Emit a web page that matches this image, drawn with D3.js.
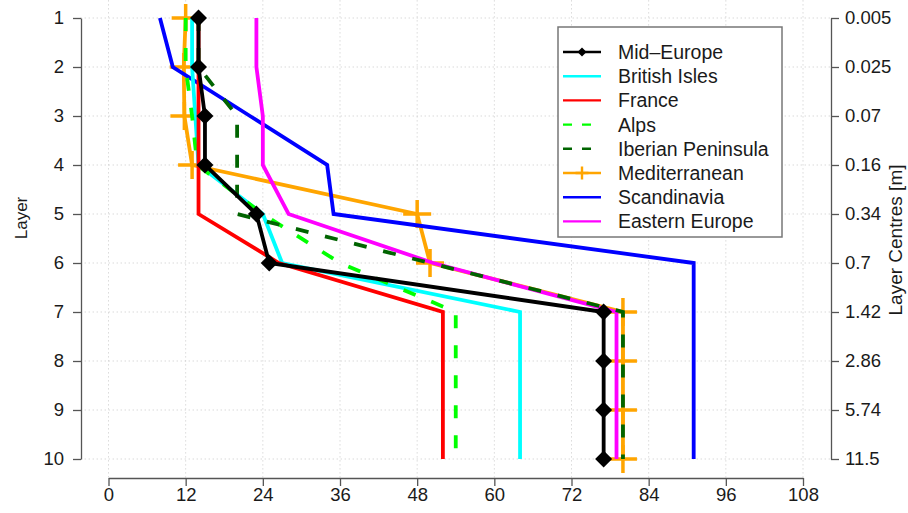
<!DOCTYPE html>
<html>
<head>
<meta charset="utf-8">
<script src="https://cdn.jsdelivr.net/npm/d3@7/dist/d3.min.js"></script>
<style>
  html, body { margin: 0; padding: 0; background: #fff; }
  svg { display: block; font-family: "Liberation Sans", Arial, Helvetica, sans-serif; }
</style>
</head>
<body>
<svg id="chart" width="908" height="513"></svg>
<script>
// Soil layers and their centre depths
const layers = [1, 2, 3, 4, 5, 6, 7, 8, 9, 10];
const layerCentres = ["0.005", "0.025", "0.07", "0.16", "0.34", "0.7", "1.42", "2.86", "5.74", "11.5"];
const xTicks = [0, 12, 24, 36, 48, 60, 72, 84, 96, 108];

// Values per region, layer 1 .. layer 10
const midEurope     = [14, 14, 15, 15, 23, 25, 77, 77, 77, 77];
const britishIsles  = [13, 13, 13.5, 14, 24, 27, 64, 64, 64, 64];
const france        = [14, 14, 14, 14, 14, 26.5, 52, 52, 52, 52];
const alps          = [12, 12, 13, 13.8, 24, 36, 54, 54, 54, 54];
const iberian       = [14, 14, 20, 20, 20, 50, 80, 80, 80, 80];
const mediterranean = [12, 11.7, 11.8, 13, 48, 50, 80, 80, 80, 80];
const scandinavia   = [8, 10, 22, 34, 35, 91, 91, 91, 91, 91];
const easternEurope = [23, 23, 24, 24, 28, 50.5, 79, 79, 79, 79];

const seriesNames  = ["Mid\u2013Europe", "British Isles", "France", "Alps", "Iberian Peninsula", "Mediterranean", "Scandinavia", "Eastern Europe"];
const seriesValues = [midEurope, britishIsles, france, alps, iberian, mediterranean, scandinavia, easternEurope];
const seriesColors = ["#000000", "#00ffff", "#ff0000", "#00ff00", "#006400", "#ffa500", "#0000ff", "#ff00ff"];
const seriesDash   = [null, null, null, "13,17", "13,17", null, null, null];
const seriesMarker = ["diamond", null, null, null, null, "plus", null, null];
// drawing order (indices into the series lists)
const drawOrder = [5, 6, 7, 1, 3, 2, 4, 0];

const svg = d3.select("#chart");
const FONT = 18.5;

const x = d3.scaleLinear().domain([0, 108]).range([108.5, 803]);
const y = d3.scaleLinear().domain([1, 10]).range([18, 459]);

// plot region (padded by 4% like the axis limits)
const xr = [x.invert(80.7), x.invert(830.8)];
const yr = [y.invert(0.4), y.invert(477.5)];

// dotted grid
const grid = svg.append("g").attr("stroke", "#c8c8c8").attr("stroke-width", 1).attr("stroke-dasharray", "1,3");
grid.selectAll("line.v").data(xTicks).join("line")
  .attr("x1", d => x(d)).attr("x2", d => x(d))
  .attr("y1", y(yr[0])).attr("y2", y(yr[1]));
grid.selectAll("line.h").data(layers).join("line")
  .attr("y1", d => y(d)).attr("y2", d => y(d))
  .attr("x1", x(xr[0])).attr("x2", x(xr[1]));

function styleAxis(g) {
  g.selectAll("path.domain").attr("stroke", "#555").attr("stroke-width", 1.3);
  g.selectAll(".tick line").attr("stroke", "#555").attr("stroke-width", 1.3);
  g.selectAll(".tick text").attr("fill", "#1a1a1a").style("font-size", FONT + "px")
    .style("font-family", "'Liberation Sans', Arial, sans-serif");
}

// bottom axis
svg.append("g").attr("transform", "translate(0,478)")
  .call(d3.axisBottom(x).tickValues(xTicks).tickSize(8).tickSizeOuter(0).tickPadding(2))
  .call(styleAxis);

// left axis: layer number
svg.append("g").attr("transform", "translate(81,0)")
  .call(d3.axisLeft(y).tickValues(layers).tickFormat(d3.format("d")).tickSize(8).tickSizeOuter(0).tickPadding(9))
  .call(styleAxis);

// right axis: layer centre depth
svg.append("g").attr("transform", "translate(831,0)")
  .call(d3.axisRight(y).tickValues(layers).tickFormat((d, i) => layerCentres[i]).tickSize(8).tickSizeOuter(0).tickPadding(6))
  .call(styleAxis);

// axis titles
svg.append("text").attr("transform", "translate(27,218) rotate(-90)")
  .attr("text-anchor", "middle").attr("fill", "#1a1a1a").style("font-size", "17px").text("Layer");
svg.append("text").attr("transform", "translate(902,240) rotate(-90)")
  .attr("text-anchor", "middle").attr("fill", "#1a1a1a").style("font-size", "19px").text("Layer Centres [m]");

// series lines
const line = d3.line().x(d => x(d.v)).y(d => y(d.layer));
const plot = svg.append("g");
drawOrder.forEach(i => {
  const pts = seriesValues[i].map((v, k) => ({ v, layer: layers[k] }));
  const g = plot.append("g");
  g.append("path").datum(pts).attr("d", line)
    .attr("fill", "none").attr("stroke", seriesColors[i]).attr("stroke-width", 3.8)
    .attr("stroke-linejoin", "miter").attr("stroke-dasharray", seriesDash[i]);
  if (seriesMarker[i] === "diamond") {
    g.selectAll("path.m").data(pts).join("path")
      .attr("transform", d => `translate(${x(d.v)},${y(d.layer)})`)
      .attr("d", "M0,-8.5L8.5,0L0,8.5L-8.5,0Z").attr("fill", seriesColors[i]);
  } else if (seriesMarker[i] === "plus") {
    g.selectAll("path.m").data(pts).join("path")
      .attr("transform", d => `translate(${x(d.v)},${y(d.layer)})`)
      .attr("d", "M-14,0H14M0,-14V14").attr("stroke", seriesColors[i]).attr("stroke-width", 3.5);
  }
});

// legend
const legend = svg.append("g");
legend.append("rect").attr("x", 558).attr("y", 27).attr("width", 224).attr("height", 210)
  .attr("fill", "#fff").attr("stroke", "#777").attr("stroke-width", 1.5);
seriesNames.forEach((name, i) => {
  const ly = 52 + i * 24.2;
  const g = legend.append("g");
  g.append("line").attr("x1", 563).attr("x2", 601).attr("y1", ly).attr("y2", ly)
    .attr("stroke", seriesColors[i]).attr("stroke-width", 2.4)
    .attr("stroke-dasharray", seriesDash[i] ? "9,10" : null);
  if (seriesMarker[i] === "diamond") {
    g.append("path").attr("transform", `translate(582,${ly})`).attr("d", "M0,-4.5L4.5,0L0,4.5L-4.5,0Z").attr("fill", seriesColors[i]);
  } else if (seriesMarker[i] === "plus") {
    g.append("path").attr("transform", `translate(582,${ly})`).attr("d", "M-6.5,0H6.5M0,-6.5V6.5").attr("stroke", seriesColors[i]).attr("stroke-width", 2.4);
  }
  g.append("text").attr("x", 618).attr("y", ly).attr("dy", "0.36em")
    .attr("fill", "#1a1a1a").style("font-size", "19.5px").text(name);
});
</script>
</body>
</html>
